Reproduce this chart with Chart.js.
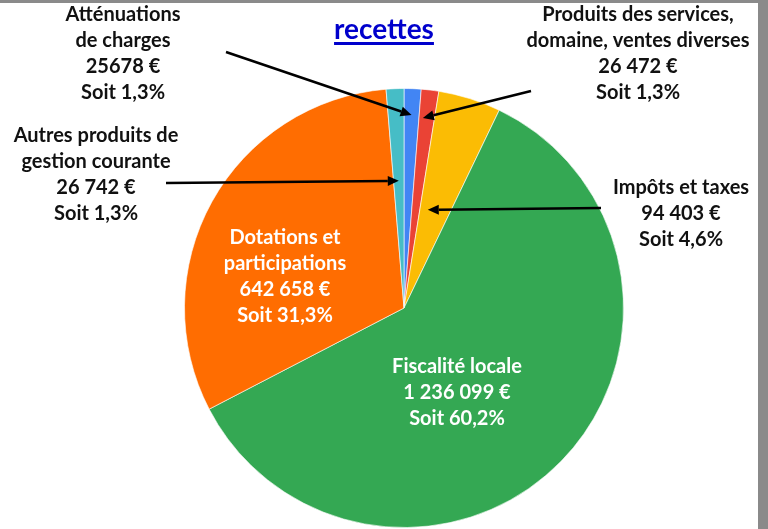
<!DOCTYPE html>
<html>
<head>
<meta charset="utf-8">
<script src="https://cdn.jsdelivr.net/npm/chart.js@4.4.0/dist/chart.umd.min.js"></script>
<style>
    body { margin: 0; background: #fff; }
    #wrap { position: relative; width: 768px; height: 529px; overflow: hidden; }
    #pie { position: absolute; left: 0; top: 0; }
    #frameTop { position: absolute; left: 0; top: 0; width: 768px; height: 3px; background: #8a8a8a; }
    #frameRight { position: absolute; left: 758px; top: 0; width: 10px; height: 529px; background: #8a8a8a; }
    #titre {
        position: absolute; left: 0; width: 768px; top: 11px; text-align: center;
        font-family: Lato, sans-serif; font-weight: bold; font-size: 28px;
        color: #0000cc; text-decoration: underline; text-decoration-thickness: 3px;
        text-underline-offset: 3px;
    }
</style>
</head>
<body>
<div id="wrap">
    <canvas id="pie" width="768" height="529"></canvas>
    <div id="titre">recettes</div>
    <div id="frameTop"></div>
    <div id="frameRight"></div>
</div>
<script>
// données
const categories = ["Atténuations de charges", "Produits des services, domaine, ventes diverses", "Impôts et taxes", "Fiscalité locale", "Dotations et participations", "Autres produits de gestion courante"];
const montants = [25678, 26472, 94403, 1236099, 642658, 26742];
const montantsTexte = ["25678 €", "26 472 €", "94 403 €", "1 236 099 €", "642 658 €", "26 742 €"];
const pourcentages = ["1,3%", "1,3%", "4,6%", "60,2%", "31,3%", "1,3%"];
const couleurs = ['#4285F4', '#EA4335', '#FBBC04', '#34A853', '#FF6D01', '#46BDC6'];

// étiquettes : lignes du nom, position du texte, couleur, flèche éventuelle
const etiquettes = [
    { nom: ["Atténuations", "de charges"], x: 123, y: 15, couleur: '#111', fleche: { x: 226, y: 52, t: 0.5, r: 0.88 } },
    { nom: ["Produits des services,", "domaine, ventes diverses"], x: 638, y: 15, couleur: '#111', fleche: { x: 531, y: 91, t: 0.25, r: 0.87 } },
    { nom: ["Impôts et taxes"], x: 681, y: 188, couleur: '#111', fleche: { x: 601, y: 208, t: 0.27, r: 0.46 } },
    { nom: ["Fiscalité locale"], x: 457, y: 367, couleur: '#fff', fleche: null },
    { nom: ["Dotations et", "participations"], x: 285, y: 238, couleur: '#fff', fleche: null },
    { nom: ["Autres produits de", "gestion courante"], x: 96, y: 136, couleur: '#111', fleche: { x: 166, y: 183, t: 0.5, r: 0.58 } }
];

const etiquettesPlugin = {
    id: 'etiquettes',
    afterDraw(chart) {
        const ctx = chart.ctx;
        const arcs = chart.getDatasetMeta(0).data;
        ctx.save();
        ctx.font = 'bold 20px Lato, sans-serif';
        ctx.textAlign = 'center';
        ctx.textBaseline = 'middle';
        etiquettes.forEach((e, i) => {
            const lignes = e.nom.concat([montantsTexte[i], 'Soit ' + pourcentages[i]]);
            ctx.fillStyle = e.couleur;
            lignes.forEach((l, k) => ctx.fillText(l, e.x, e.y + k * 26));

            if (e.fleche) {
                const arc = arcs[i];
                const a = arc.startAngle + (arc.endAngle - arc.startAngle) * e.fleche.t;
                const rr = arc.outerRadius * e.fleche.r;
                const tx = arc.x + Math.cos(a) * rr;
                const ty = arc.y + Math.sin(a) * rr;
                const ang = Math.atan2(ty - e.fleche.y, tx - e.fleche.x);
                const long = 11;
                const bx = tx - Math.cos(ang) * long;
                const by = ty - Math.sin(ang) * long;
                ctx.strokeStyle = '#000';
                ctx.fillStyle = '#000';
                ctx.lineWidth = 2.5;
                ctx.beginPath();
                ctx.moveTo(e.fleche.x, e.fleche.y);
                ctx.lineTo(bx, by);
                ctx.stroke();
                ctx.beginPath();
                ctx.moveTo(tx, ty);
                ctx.lineTo(bx + Math.cos(ang + Math.PI / 2) * 5, by + Math.sin(ang + Math.PI / 2) * 5);
                ctx.lineTo(bx + Math.cos(ang - Math.PI / 2) * 5, by + Math.sin(ang - Math.PI / 2) * 5);
                ctx.closePath();
                ctx.fill();
            }
        });
        ctx.restore();
    }
};

const ctx = document.getElementById('pie').getContext('2d');
const recettesChart = new Chart(ctx, {
    type: 'pie',
    data: {
        labels: categories,
        datasets: [{
            data: montants,
            backgroundColor: couleurs,
            borderColor: 'rgba(255, 255, 255, 0.6)',
            borderWidth: 1
        }]
    },
    options: {
        responsive: false,
        animation: false,
        layout: { padding: { left: 184, right: 144, top: 88, bottom: 1 } },
        plugins: {
            legend: { display: false },
            tooltip: { enabled: false }
        }
    },
    plugins: [etiquettesPlugin]
});
</script>
</body>
</html>
